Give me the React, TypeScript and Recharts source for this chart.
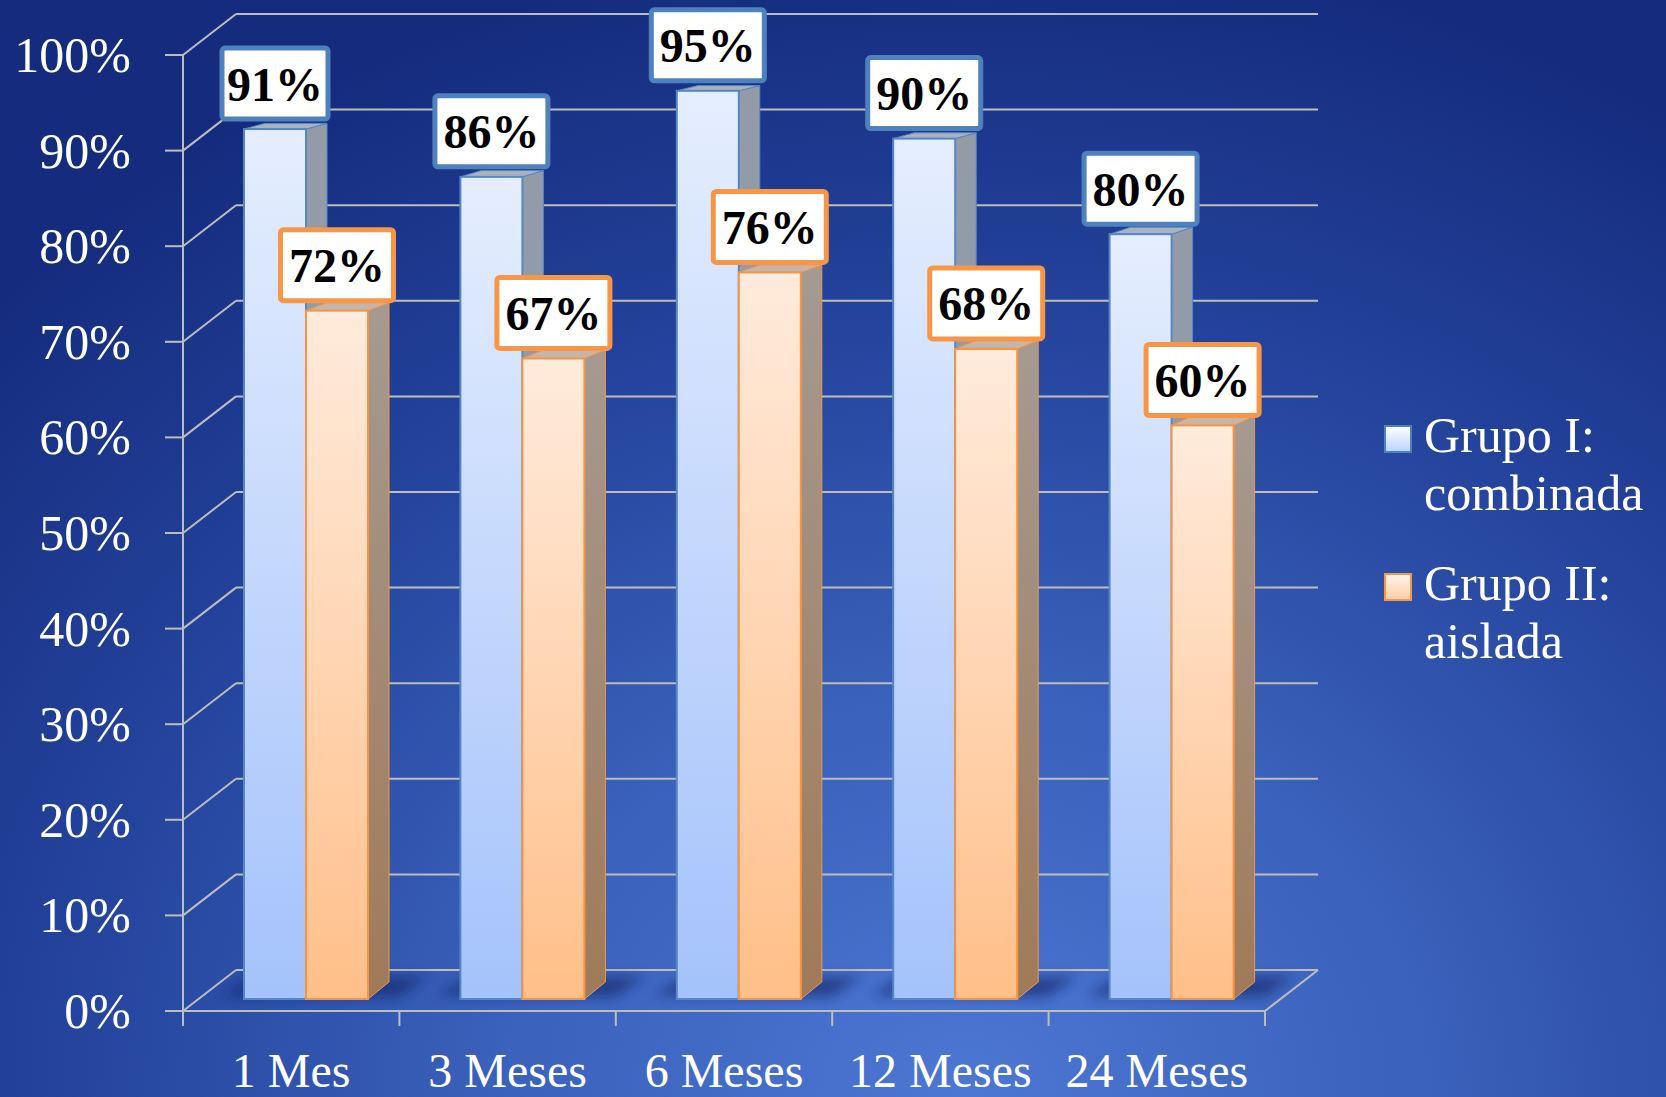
import { BarChart, Bar, XAxis, YAxis, CartesianGrid, Legend, LabelList } from 'recharts'

const categories = ['1 Mes', '3 Meses', '6 Meses', '12 Meses', '24 Meses']
const grupoI = [91, 86, 95, 90, 80]
const grupoII = [72, 67, 76, 68, 60]
const yTicks = [0, 10, 20, 30, 40, 50, 60, 70, 80, 90, 100]

const data = categories.map((cat, i) => ({ cat, g1: grupoI[i], g2: grupoII[i] }))

const W = 1666
const H = 1097
const FONT = "'Liberation Serif', 'DejaVu Serif', serif"
const GRID = '#bdbdbd'

// front axis plane sits at the plot rect; the bar row and back wall are pushed into depth
const PLOT_LEFT = 183
const PLOT_RIGHT = 1265
const BAND = (PLOT_RIGHT - PLOT_LEFT) / categories.length
const ROW_DX = 15
const ROW_DY = -12
const WALL_DX = 53
const WALL_DY = -41
const SIDE_DX = 21
// perspective: depth edges lower on the page look steeper
const sideDy = (py: number) => -(4 + 0.013 * py)

type Pal = { front: string; side: string; top: string; stroke: string }
const BLUE: Pal = { front: 'url(#frontBlue)', side: 'url(#sideBlue)', top: '#aab2bf', stroke: '#5687c4' }
const ORANGE: Pal = { front: 'url(#frontOrange)', side: 'url(#sideOrange)', top: '#c6b6a8', stroke: '#f59447' }

function Block(props: any, pal: Pal, shadow: boolean) {
  const { x, y, width, height } = props
  if (height == null || width == null) return <g />
  const X = x + ROW_DX
  const Y = y + ROW_DY
  const B = Y + height
  const tdy = sideDy(Y)
  const bdy = sideDy(B)
  return (
    <g>
      {shadow && (
        <polygon
          points={`${X - 22},${B - 4} ${X + 10},${B - 22} ${X + 2 * width + 60},${B - 22} ${X + 2 * width + 30},${B - 2}`}
          fill="#0d1d5c"
          opacity={0.55}
          filter="url(#floorShadow)"
        />
      )}
      <polygon
        points={`${X + width},${Y} ${X + width + SIDE_DX},${Y + tdy} ${X + width + SIDE_DX},${B + bdy} ${X + width},${B}`}
        fill={pal.side}
        stroke={pal.stroke}
        strokeWidth={1}
      />
      <polygon
        points={`${X},${Y} ${X + SIDE_DX},${Y + tdy} ${X + width + SIDE_DX},${Y + tdy} ${X + width},${Y}`}
        fill={pal.top}
        stroke={pal.stroke}
        strokeWidth={1}
      />
      <rect x={X} y={Y} width={width} height={height} fill={pal.front} stroke={pal.stroke} strokeWidth={2} />
    </g>
  )
}

const valueTag = (stroke: string) => (props: any) => {
  const vb = props.viewBox || props
  const x = props.x ?? vb.x
  const y = props.y ?? vb.y
  const width = props.width ?? vb.width
  const height = props.height ?? vb.height
  if (x == null || y == null) return null
  const text = `${props.value}%`
  const top = Math.min(y, y + (height || 0)) + ROW_DY
  const cx = x + ROW_DX + width / 2
  // a "1" is narrow, so its box is a little tighter
  const bw = text.includes('1') ? 106 : 113
  const bh = 71
  const bottom = top - 10
  return (
    <g>
      <rect x={cx - bw / 2} y={bottom - bh} width={bw} height={bh} rx={3} fill="#ffffff" stroke={stroke} strokeWidth={5} />
      <text
        x={cx}
        y={bottom - bh / 2 + 17}
        textAnchor="middle"
        fontFamily={FONT}
        fontWeight="bold"
        fontSize={48}
        fill="#000"
      >
        {text}
      </text>
    </g>
  )
}

// back wall lines plus the diagonals on the left side wall
function WallLine(p: any) {
  const { x1, x2, y1 } = p
  const floorY = (p.y ?? 0) + (p.height ?? 0)
  const isFloor = Math.abs(y1 - floorY) < 1
  return (
    <g>
      <line x1={x1} y1={y1} x2={x1 + WALL_DX} y2={y1 + WALL_DY} stroke={GRID} strokeWidth={2} />
      <line x1={x1 + WALL_DX} y1={y1 + WALL_DY} x2={x2 + WALL_DX} y2={y1 + WALL_DY} stroke={GRID} strokeWidth={2} />
      {isFloor && <line x1={x2} y1={y1} x2={x2 + WALL_DX} y2={y1 + WALL_DY} stroke={GRID} strokeWidth={2} />}
    </g>
  )
}

function YTick(p: any) {
  const { x, y, payload } = p
  return (
    <text x={x} y={y + 17} textAnchor="end" fontFamily={FONT} fontSize={50} fill="#ffffff">
      {payload.value}%
    </text>
  )
}

function XTick(p: any) {
  const { x, y, payload, index } = p
  const left = x - BAND / 2
  return (
    <g>
      <line x1={left} y1={y} x2={left} y2={y + 15} stroke={GRID} strokeWidth={2} />
      {index === categories.length - 1 && (
        <line x1={left + BAND} y1={y} x2={left + BAND} y2={y + 15} stroke={GRID} strokeWidth={2} />
      )}
      <text x={x} y={y + 76} textAnchor="middle" fontFamily={FONT} fontSize={48} fill="#ffffff">
        {payload.value}
      </text>
    </g>
  )
}

function LegendBox() {
  const items = [
    { label: 'Grupo I: combinada', bg: 'linear-gradient(#ffffff, #bcd3fb)', border: '#4f81bd' },
    { label: 'Grupo II: aislada', bg: 'linear-gradient(#fff3ea, #ffcfa6)', border: '#f79646' },
  ]
  return (
    <div style={{ fontFamily: FONT, color: '#ffffff', fontSize: 50, lineHeight: '58px' }}>
      {items.map((it, i) => (
        <div key={it.label} style={{ display: 'flex', alignItems: 'flex-start', marginTop: i ? 32 : 0 }}>
          <div
            style={{
              width: 24,
              height: 24,
              marginTop: 19,
              marginRight: 12,
              background: it.bg,
              border: `2px solid ${it.border}`,
              flex: 'none',
            }}
          />
          <div style={{ width: 240 }}>{it.label}</div>
        </div>
      ))}
    </div>
  )
}

export default function App() {
  return (
    <div
      style={{
        position: 'absolute',
        left: 0,
        top: 0,
        width: W,
        height: H,
        overflow: 'hidden',
        background:
          'radial-gradient(ellipse 80% 105% at 58% 100%, #4c77d3 0%, #3a61bb 35%, #24439c 68%, #152c7e 100%)',
      }}
    >
      <BarChart
        width={W}
        height={H}
        data={data}
        margin={{ top: 55, right: W - PLOT_RIGHT, bottom: 0, left: 0 }}
        barSize={62}
        barGap={0}
      >
        <defs>
          <linearGradient id="frontBlue" x1="0" y1="0" x2="0" y2="1">
            <stop offset="0" stopColor="#e5eefe" />
            <stop offset="1" stopColor="#a4c2fb" />
          </linearGradient>
          <linearGradient id="frontOrange" x1="0" y1="0" x2="0" y2="1">
            <stop offset="0" stopColor="#ffebdc" />
            <stop offset="1" stopColor="#ffbf89" />
          </linearGradient>
          <linearGradient id="sideBlue" x1="0" y1="0" x2="0" y2="1">
            <stop offset="0" stopColor="#939ba7" />
            <stop offset="1" stopColor="#8a9ab6" />
          </linearGradient>
          <linearGradient id="sideOrange" x1="0" y1="0" x2="0" y2="1">
            <stop offset="0" stopColor="#a59a92" />
            <stop offset="1" stopColor="#a07a58" />
          </linearGradient>
          <filter id="floorShadow" x="-20%" y="-100%" width="140%" height="300%">
            <feGaussianBlur stdDeviation="6" />
          </filter>
        </defs>
        <CartesianGrid vertical={false} horizontal={(p: any) => <WallLine {...p} />} />
        <XAxis
          dataKey="cat"
          height={86}
          axisLine={{ stroke: GRID, strokeWidth: 2 }}
          tickLine={false}
          tickSize={0}
          tickMargin={0}
          interval={0}
          tick={(p: any) => <XTick {...p} />}
        />
        <YAxis
          width={PLOT_LEFT}
          domain={[0, 100]}
          ticks={yTicks}
          interval={0}
          axisLine={{ stroke: GRID, strokeWidth: 2 }}
          tickLine={{ stroke: GRID, strokeWidth: 2 }}
          tickSize={18}
          tickMargin={34}
          tick={(p: any) => <YTick {...p} />}
        />
        <Legend
          layout="vertical"
          align="center"
          verticalAlign="middle"
          wrapperStyle={{ left: 1384, top: 406, width: 282 }}
          content={() => <LegendBox />}
        />
        <Bar dataKey="g1" name="Grupo I: combinada" isAnimationActive={false} shape={(p: any) => Block(p, BLUE, true)}>
          <LabelList dataKey="g1" content={valueTag('#4f81bd')} />
        </Bar>
        <Bar dataKey="g2" name="Grupo II: aislada" isAnimationActive={false} shape={(p: any) => Block(p, ORANGE, false)}>
          <LabelList dataKey="g2" content={valueTag('#f79646')} />
        </Bar>
      </BarChart>
    </div>
  )
}
